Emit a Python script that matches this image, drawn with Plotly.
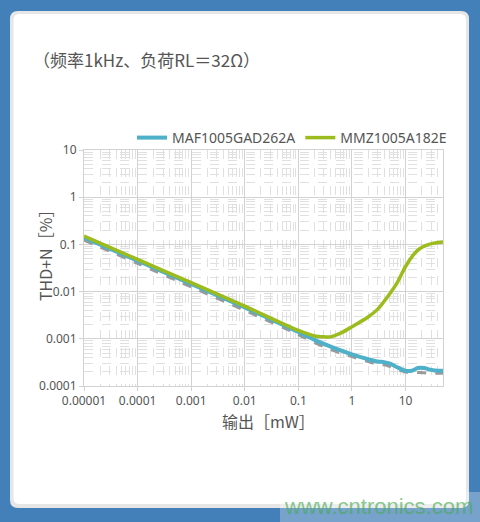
import plotly.graph_objects as go

# ---------------- data ----------------
x_maf = [1e-5, 1e-4, 1e-3, 1e-2, 0.1, 0.2, 0.3, 0.5, 1, 2, 3, 4, 5, 7, 10, 13, 17, 22, 30, 40, 50]
y_maf = [0.14, 0.045, 0.0145, 0.0046, 0.0014, 0.00095, 0.00078, 0.00062, 0.00047, 0.00037,
         0.00033, 0.00032, 0.0003, 0.00025, 0.00021, 0.00021, 0.00024, 0.00024, 0.00022, 0.00021, 0.00021]

x_ref = [1e-5, 1e-4, 1e-3, 1e-2, 0.1, 0.2, 0.3, 0.5, 1, 2, 3, 4, 5, 7, 10, 15, 22, 30, 40, 50]
y_ref = [0.124, 0.0395, 0.0126, 0.0040, 0.00123, 0.00083, 0.00068, 0.00054, 0.00042, 0.00033,
         0.00029, 0.00028, 0.00026, 0.000225, 0.000198, 0.000195, 0.00019, 0.000186, 0.000186, 0.000186]

x_mmz = [1e-5, 1e-4, 1e-3, 1e-2, 0.1, 0.2, 0.3, 0.4, 0.6, 1, 2, 3, 5, 7, 10, 14, 18, 25, 32, 40, 50]
y_mmz = [0.15, 0.048, 0.0155, 0.0049, 0.0015, 0.00115, 0.0011, 0.0011, 0.0013, 0.0018, 0.0029,
         0.0042, 0.0088, 0.0155, 0.034, 0.06, 0.08, 0.097, 0.105, 0.11, 0.112]

x_tickvals = [1e-5, 1e-4, 1e-3, 1e-2, 0.1, 1, 10]
x_ticktext = ["0.00001", "0.0001", "0.001", "0.01", "0.1", "1", "10"]
y_tickvals = [1e-4, 1e-3, 1e-2, 0.1, 1, 10]
y_ticktext = ["0.0001", "0.001", "0.01", "0.1", "1", "10"]

names = ["MAF1005GAD262A", "MMZ1005A182E"]

# ---------------- layout geometry ----------------
W, H = 480, 522
L, R, T, B = 84, 443, 150, 386


def px(xp):
    return (xp - L) / (R - L)


def py(yp):
    return (B - yp) / (B - T)


def rrect(x0, y0, x1, y1, r):
    pts = [
        f"M {px(x0 + r)},{py(y0)}",
        f"L {px(x1 - r)},{py(y0)}",
        f"Q {px(x1)},{py(y0)} {px(x1)},{py(y0 + r)}",
        f"L {px(x1)},{py(y1 - r)}",
        f"Q {px(x1)},{py(y1)} {px(x1 - r)},{py(y1)}",
        f"L {px(x0 + r)},{py(y1)}",
        f"Q {px(x0)},{py(y1)} {px(x0)},{py(y1 - r)}",
        f"L {px(x0)},{py(y0 + r)}",
        f"Q {px(x0)},{py(y0)} {px(x0 + r)},{py(y0)}",
        "Z",
    ]
    return " ".join(pts)


fig = go.Figure()
fig.add_trace(go.Scatter(x=x_ref, y=y_ref, mode="lines", showlegend=False,
                         line=dict(color="#9a9a9a", width=3, dash="dash", shape="spline", smoothing=0.8)))
fig.add_trace(go.Scatter(x=x_maf, y=y_maf, mode="lines", name=names[0],
                         line=dict(color="#4fb0c9", width=4, shape="spline", smoothing=0.8)))
fig.add_trace(go.Scatter(x=x_mmz, y=y_mmz, mode="lines", name=names[1],
                         line=dict(color="#9cbb1c", width=3.5, shape="spline", smoothing=0.8)))

grid_major = "#d2d2d2"
grid_minor = "#e0e0e0"
tickfont = dict(family="Noto Sans, sans-serif", size=12, color="#555")

fig.update_xaxes(type="log", range=[-5, 1.699], tickvals=x_tickvals, ticktext=x_ticktext,
                 showgrid=True, gridcolor=grid_major, gridwidth=1,
                 minor=dict(dtick="D1", showgrid=True, gridcolor=grid_minor, griddash="dash", gridwidth=1),
                 showline=True, linecolor=grid_major, mirror=True,
                 ticks="outside", ticklen=4, tickcolor=grid_major,
                 tickfont=tickfont, zeroline=False)
fig.update_yaxes(type="log", range=[-4, 1], tickvals=y_tickvals, ticktext=y_ticktext,
                 showgrid=True, gridcolor=grid_major, gridwidth=1,
                 minor=dict(dtick="D1", showgrid=True, gridcolor=grid_minor, griddash="dash", gridwidth=1),
                 showline=True, linecolor=grid_major, mirror=True,
                 ticks="outside", ticklen=4, tickcolor=grid_major,
                 tickfont=tickfont, zeroline=False)

shapes = [
    dict(type="path", xref="paper", yref="paper", path=rrect(10, 11, 469, 508, 8),
         fillcolor="#e6e6e6", line=dict(width=0), layer="below"),
    dict(type="path", xref="paper", yref="paper", path=rrect(13.5, 14, 466, 504, 6),
         fillcolor="#ffffff", line=dict(width=0), layer="below"),
    dict(type="rect", xref="paper", yref="paper", x0=px(280), x1=px(480), y0=py(492), y1=py(522),
         fillcolor="rgba(255,255,255,0.28)", line=dict(width=0), layer="above"),
]

annotations = [
    dict(text="（频率1kHz、负荷RL＝32Ω）", xref="paper", yref="paper", x=px(31), y=py(60),
         xanchor="left", yanchor="middle", showarrow=False,
         font=dict(family="Noto Sans CJK SC", size=17, color="#555")),
    dict(text="THD+N［%］", xref="paper", yref="paper", x=px(45), y=py(252),
         xanchor="center", yanchor="middle", showarrow=False, textangle=-90,
         font=dict(family="Noto Sans CJK SC", size=16, color="#555")),
    dict(text="输出［mW］", xref="paper", yref="paper", x=px(268), y=py(421),
         xanchor="center", yanchor="middle", showarrow=False,
         font=dict(family="Noto Sans CJK SC", size=16, color="#555")),
    dict(text="www.cntronics.com", xref="paper", yref="paper", x=px(378), y=py(506),
         xanchor="center", yanchor="middle", showarrow=False,
         font=dict(family="Liberation Sans, Arial", size=22, color="rgba(70,170,80,0.65)")),
]

fig.update_layout(
    width=W, height=H,
    margin=dict(l=L, r=W - R, t=T, b=H - B),
    paper_bgcolor="#437fb9",
    plot_bgcolor="rgba(0,0,0,0)",
    shapes=shapes,
    annotations=annotations,
    legend=dict(orientation="h", x=px(452), xanchor="right", y=py(138), yanchor="middle",
                font=dict(family="Noto Sans, sans-serif", size=14, color="#555"),
                bgcolor="rgba(0,0,0,0)", itemwidth=30, tracegroupgap=0),
)

fig.write_html("out.html",
               config={"displayModeBar": False},
               post_script="document.body.style.margin='0px';document.body.style.padding='0px';"
                           "document.body.style.overflow='hidden';document.body.style.background='#437fb9';")
